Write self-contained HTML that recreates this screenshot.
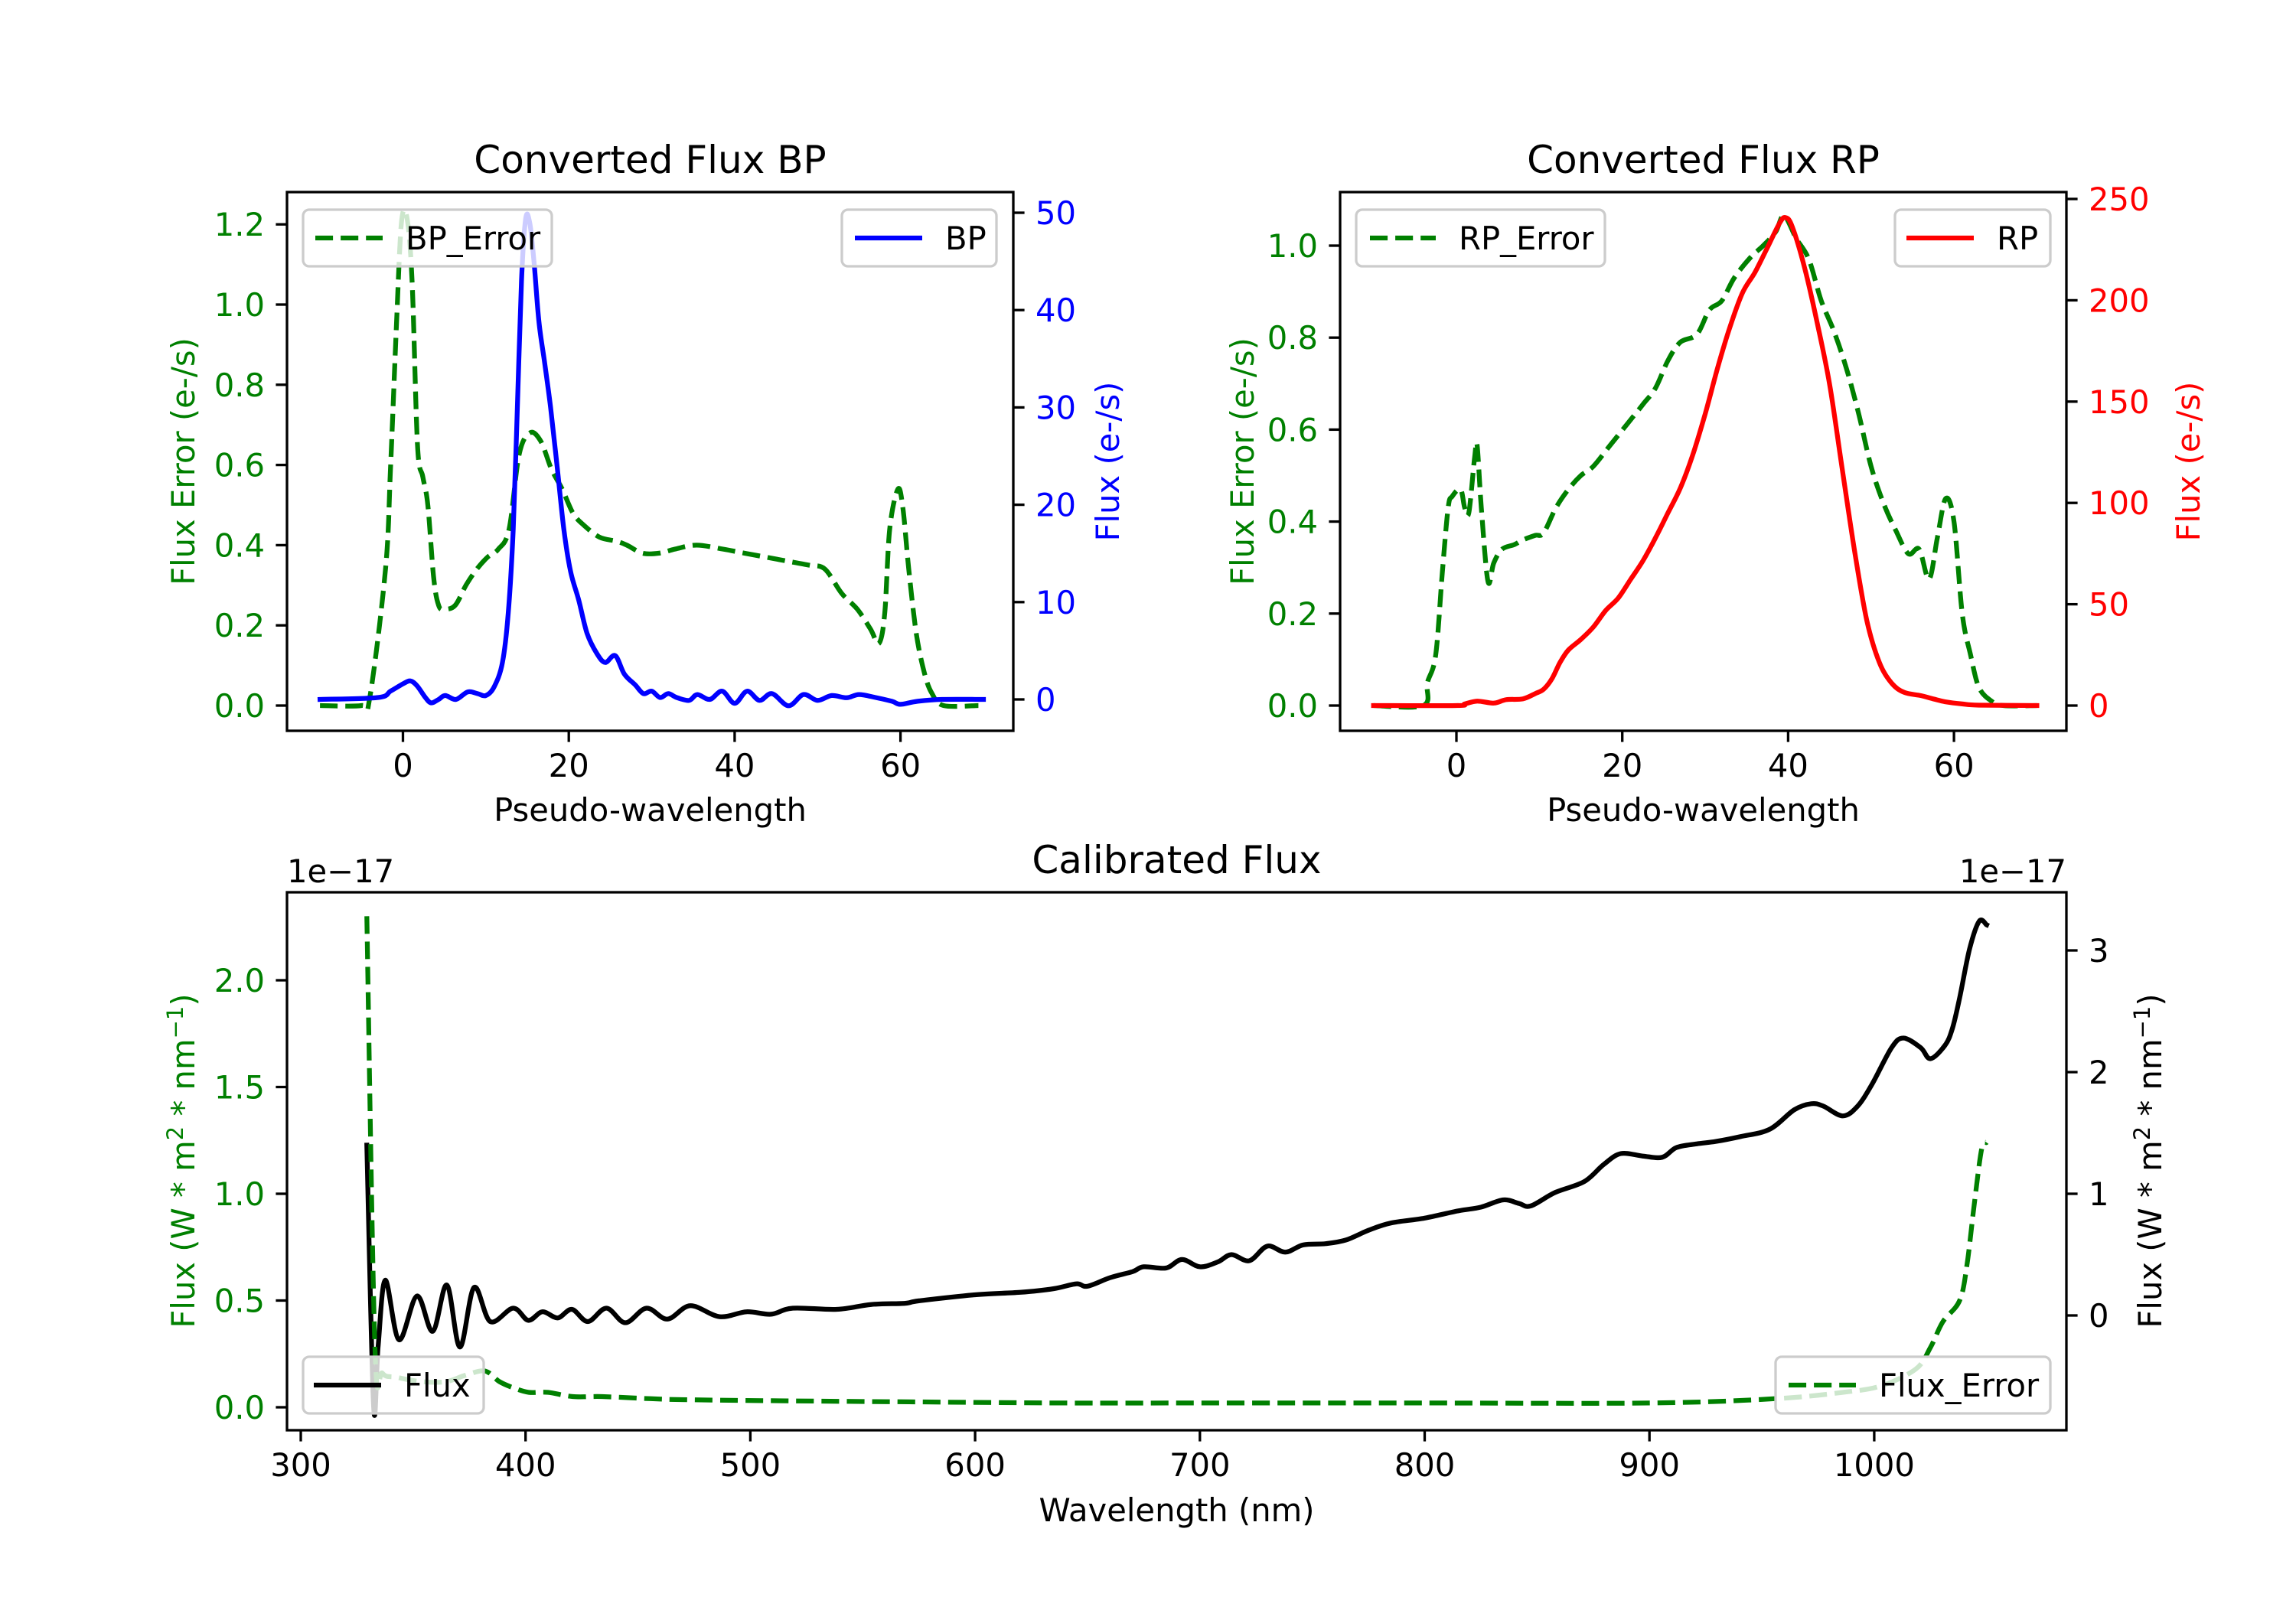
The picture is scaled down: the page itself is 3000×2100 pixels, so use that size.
<!DOCTYPE html>
<html><head><meta charset="utf-8"><style>
html,body{margin:0;padding:0;background:#fff}
svg{display:block}
text{font-family:"DejaVu Sans","Liberation Sans",sans-serif}
</style></head><body>
<svg id="fig" xmlns="http://www.w3.org/2000/svg" width="3000" height="2100" viewBox="0 0 3000 2100">
<rect x="0" y="0" width="3000" height="2100" fill="#fff"/>
</svg>
<script>
// ---- BP data ----
const bpErrX=[-10,-5,-4,-2.1,-1.5,-0.8,-0.2,0.45,1.1,1.75,2.4,3.0,3.7,4.3,5.0,6.3,7.6,8.9,10.2,11.5,12.8,14.0,15.3,16.6,17.9,19.2,20.5,21.8,23.7,25.7,27.0,28.9,30.9,32.8,35.4,38.6,41.2,43.8,46.4,49,50.9,52.9,54.8,56.4,57.4,58.1,58.7,59.7,60.3,61.0,61.9,62.9,63.8,65.2,69.4];
const bpErr=[0,0,0.02,0.34,0.59,0.94,1.2,1.22,1.06,0.65,0.57,0.50,0.32,0.25,0.24,0.25,0.30,0.34,0.37,0.39,0.44,0.625,0.68,0.66,0.59,0.54,0.48,0.45,0.42,0.41,0.40,0.38,0.38,0.39,0.40,0.39,0.38,0.37,0.36,0.35,0.34,0.28,0.24,0.19,0.155,0.23,0.44,0.54,0.49,0.34,0.18,0.08,0.03,0,0];
const bpX=[-10,-3,-1.5,0,0.9,1.7,2.7,3.4,4.3,5.1,6.4,7.8,9,10,11,12,12.7,13.3,13.8,14.3,14.8,15.3,15.8,16.4,17.1,17.8,18.6,19.4,20.2,21.2,22.2,23.4,24.4,25.6,26.7,28,29,30,31,32,33,34.5,35.5,37,38.5,40,41.5,43,44.5,46.5,48.3,50,51.7,53.5,55,57,59,60,62,65,70];
const bpFlux=[0,0.2,0.85,1.6,1.9,1.4,0.2,-0.35,0,0.4,0,0.77,0.6,0.4,1.3,3.8,8.9,17.5,30,43,49.4,48.9,45,38.8,34.5,30,23.9,17.5,13.2,10.2,6.8,4.7,3.8,4.5,2.6,1.5,0.6,0.85,0.2,0.6,0.2,-0.1,0.5,0,0.85,-0.4,0.85,-0.1,0.6,-0.65,0.5,-0.1,0.4,0.17,0.5,0.2,-0.2,-0.5,-0.2,0,0];
// ---- RP data ----
const rpErrX=[-10,-4,-3.5,-2.5,-1.7,-1,-0.5,0.5,1,1.5,2.2,2.5,3,3.8,4.5,5.5,7,8,9.5,10.5,12,13.5,15,16.5,18.5,20.5,22.5,24,25.5,27,29,30.5,32,33.5,35.5,37,38.5,39.5,41,42.5,44,45.5,47,48.5,50,51.5,53,54.5,55.8,57,58,59,60,61,62,63,64.5,66,70];
const rpErr=[0,0,0.05,0.11,0.29,0.43,0.455,0.47,0.43,0.42,0.54,0.565,0.43,0.27,0.31,0.34,0.35,0.36,0.37,0.375,0.43,0.47,0.50,0.52,0.565,0.61,0.655,0.69,0.75,0.79,0.807,0.86,0.88,0.93,0.975,1.0,1.03,1.065,1.015,0.97,0.88,0.815,0.735,0.635,0.52,0.44,0.38,0.33,0.34,0.275,0.365,0.45,0.40,0.20,0.11,0.04,0.01,0,0];
const rpX=[-10,0,1,2.5,4.5,6,8,9.5,10.5,11.5,12.5,13.5,15,16.5,18,19.5,21,22.5,24,25.5,27,28.5,30,31.5,33,34.5,36,37.5,39,39.7,40.5,42,43.5,45,46.5,48,49.5,51,52.5,54,56,57.5,59,61,63,70];
const rpFlux=[0,0,0.8,2.2,1.2,2.9,3.3,5.9,8,13.1,21.3,27.4,32.6,38.7,46.9,53,62.2,71.5,82.7,95,107.3,123.7,144,166.7,187,203.7,213.8,226,238.3,240.8,236.3,215.8,189,158.5,117.5,76.6,41.8,21.3,11,6.5,4.9,3.3,1.8,0.8,0.2,0];
// ---- Calibrated data (units of 1e-17) ----
const calX=[329.4,332.4,334.4,337.6,343.7,351.7,358.7,365.0,370.8,377.1,384.3,394.5,401.2,407.5,414.3,420.6,427.7,436.0,444.4,453.8,463.1,473.3,486.3,498.3,509.2,518.9,538.5,553.7,568.9,575,600,620,635,645,650,660,670,675,685,692,700,708,714,722,730,738,746,756,765,775,785,800,815,825,835,842,847.2,858,871,879.6,887.2,897,905.7,912,921,929.6,940.5,953.5,964.4,972,977.4,986,992.6,999,1007.7,1013,1020.7,1025,1031.5,1034.8,1038,1042.4,1046.7,1050];
const calFlux=[1.40,-0.75,-0.26,0.29,-0.20,0.16,-0.13,0.25,-0.26,0.23,-0.05,0.06,-0.04,0.03,-0.02,0.05,-0.05,0.06,-0.06,0.06,-0.03,0.08,-0.01,0.03,0.01,0.06,0.05,0.09,0.10,0.12,0.17,0.19,0.22,0.26,0.24,0.31,0.36,0.40,0.39,0.46,0.40,0.44,0.50,0.45,0.57,0.52,0.58,0.59,0.62,0.70,0.76,0.80,0.86,0.89,0.95,0.92,0.90,1.01,1.10,1.24,1.33,1.31,1.30,1.38,1.41,1.43,1.47,1.53,1.69,1.74,1.72,1.64,1.72,1.90,2.20,2.28,2.20,2.11,2.22,2.36,2.61,3.01,3.24,3.21];
const errX=[329.4,333,336.3,342.8,353.7,364.5,373.2,381.9,388.4,394.9,401.4,410,421,434,455.7,473,516.5,575,640,700,800,900,955.7,986,1003,1018.6,1025,1030.5,1038,1041.3,1044.6,1047.8,1050];
const errVal=[2.30,0.28,0.16,0.14,0.12,0.12,0.15,0.17,0.12,0.09,0.07,0.07,0.05,0.05,0.04,0.035,0.03,0.025,0.02,0.02,0.02,0.02,0.04,0.07,0.10,0.18,0.28,0.40,0.50,0.67,0.96,1.21,1.24];
// tick labels
const bpXTicks=[0,20,40,60];
const bpLTicks=[0,0.2,0.4,0.6,0.8,1.0,1.2];
const bpRTicks=[0,10,20,30,40,50];
const rpLTicks=[0,0.2,0.4,0.6,0.8,1.0];
const rpRTicks=[0,50,100,150,200,250];
const calXTicks=[300,400,500,600,700,800,900,1000];
const calLTicks=[0,0.5,1.0,1.5,2.0];
const calRTicks=[0,1,2,3];

const NS="http://www.w3.org/2000/svg";
const svg=document.getElementById('fig');
function el(tag,attrs,parent){const e=document.createElementNS(NS,tag);for(const k in attrs)e.setAttribute(k,attrs[k]);(parent||svg).appendChild(e);return e;}
function lin(d0,p0,scale){return v=>p0+(v-d0)*scale;}
const GREEN="#008000";
const FS=41.7;

function axesBox(name,x0,y0,x1,y1){
  const g=el('g',{});
  
  
  const cp=el('clipPath',{id:'clip-'+name},g);
  el('rect',{x:x0,y:y0,width:x1-x0,height:y1-y0},cp);
  return g;
}
function frame(g,x0,y0,x1,y1){
  const r=el('rect',{x:x0,y:y0,width:x1-x0,height:y1-y0,fill:'none',stroke:'#000','stroke-width':3.3},g);
  
  
}
function line(g,name,xs,ys,sx,sy,color,dashed,clipId){
  const P=xs.map((x,i)=>[sx(x),sy(ys[i])]);
  let d='M'+P[0][0].toFixed(1)+' '+P[0][1].toFixed(1);
  const t=0.5/3;
  for(let i=0;i<P.length-1;i++){
    const p0=P[Math.max(i-1,0)],p1=P[i],p2=P[i+1],p3=P[Math.min(i+2,P.length-1)];
    const c1=[p1[0]+(p2[0]-p0[0])*t,p1[1]+(p2[1]-p0[1])*t];
    const c2=[p2[0]-(p3[0]-p1[0])*t,p2[1]-(p3[1]-p1[1])*t];
    d+='C'+c1[0].toFixed(1)+' '+c1[1].toFixed(1)+' '+c2[0].toFixed(1)+' '+c2[1].toFixed(1)+' '+p2[0].toFixed(1)+' '+p2[1].toFixed(1);
  }
  const p=el('path',{d:d,fill:'none',stroke:color,'stroke-width':6.25,'stroke-linejoin':'round','stroke-linecap':dashed?'butt':'square','clip-path':'url(#'+clipId+')'},g);
  if(dashed)p.setAttribute('stroke-dasharray','23.1 10');
  
  
}
function xTicks(g,ticks,sx,yb,fmt,name){
  ticks.forEach(t=>{
    const x=sx(t);
    const tk=el('line',{x1:x,y1:yb,x2:x,y2:yb+14.6,stroke:'#000','stroke-width':3.3},g);
    
    
    const tx=el('text',{x:x,y:yb+60,'text-anchor':'middle','font-size':FS,fill:'#000'},g);
    tx.textContent=fmt(t);
    
    
  });
}
function yTicks(g,ticks,sy,xa,side,color,fmt,name){
  ticks.forEach(t=>{
    const y=sy(t);
    const dx=side==='left'?-14.6:14.6;
    const tk=el('line',{x1:xa,y1:y,x2:xa+dx,y2:y,stroke:'#000','stroke-width':3.3},g);
    
    
    const tx=el('text',{x:side==='left'?xa-29:xa+29,y:y+15,'text-anchor':side==='left'?'end':'start','font-size':FS,fill:color},g);
    tx.textContent=fmt(t);
    
    
  });
}
function text(g,name,str,x,y,opts){
  const a={x:x,y:y,'font-size':opts.fs||FS,fill:opts.color||'#000','text-anchor':opts.anchor||'middle'};
  if(opts.rot)a.transform='rotate('+opts.rot+' '+x+' '+y+')';
  const t=el('text',a,g);
  t.textContent=str;
  
  
  return t;
}
function legend(g,name,bx0,by0,bx1,by1,lx0,lx1,color,dashed,label){
  const lg=el('g',{},g);
  
  
  el('rect',{x:bx0,y:by0,width:bx1-bx0,height:by1-by0,rx:8,fill:'#fff','fill-opacity':0.8,stroke:'#cccccc','stroke-width':3.3},lg);
  const ym=(by0+by1)/2;
  const l=el('line',{x1:lx0,y1:ym,x2:lx1,y2:ym,stroke:color,'stroke-width':6.25},lg);
  if(dashed)l.setAttribute('stroke-dasharray','23.1 10');
  const t=el('text',{x:lx1+30,y:ym+15,'font-size':FS,fill:'#000'},lg);
  t.textContent=label;
}
const f1=v=>v.toFixed(1);
const f0=v=>String(v);

// ===== BP =====
{
  const x0=375,x1=1324,y0=251,y1=955;
  const g=axesBox('bp-axes',x0,y0,x1,y1);
  const sx=lin(0,526.5,10.835), syL=lin(0,922,-524), syR=lin(0,914,-12.72);
  line(g,'bp-error-line',bpErrX,bpErr,sx,syL,GREEN,true,'clip-bp-axes');
  line(g,'bp-flux-line',bpX,bpFlux,sx,syR,'#0000ff',false,'clip-bp-axes');
  frame(g,x0,y0,x1,y1);
  xTicks(g,bpXTicks,sx,y1,f0,'bp-x');
  yTicks(g,bpLTicks,syL,x0,'left',GREEN,f1,'bp-left-y');
  yTicks(g,bpRTicks,syR,x1,'right','#0000ff',f0,'bp-right-y');
  text(g,'bp-title','Converted Flux BP',(x0+x1)/2,226,{fs:50});
  text(g,'bp-x-axis-title','Pseudo-wavelength',(x0+x1)/2,1073,{});
  text(g,'bp-left-y-axis-title','Flux Error (e-/s)',254,603,{rot:-90,color:GREEN});
  text(g,'bp-right-y-axis-title','Flux (e-/s)',1462,603,{rot:-90,color:'#0000ff'});
  legend(g,'bp-error-legend',396,274,721,348,412,500,GREEN,true,'BP_Error');
  legend(g,'bp-legend',1100,274,1302,348,1117,1205,'#0000ff',false,'BP');
}
// ===== RP =====
{
  const x0=1751,x1=2700,y0=251,y1=955;
  const g=axesBox('rp-axes',x0,y0,x1,y1);
  const sx=lin(0,1903,10.835), syL=lin(0,922,-601), syR=lin(0,922,-2.648);
  line(g,'rp-error-line',rpErrX,rpErr,sx,syL,GREEN,true,'clip-rp-axes');
  line(g,'rp-flux-line',rpX,rpFlux,sx,syR,'#ff0000',false,'clip-rp-axes');
  frame(g,x0,y0,x1,y1);
  xTicks(g,bpXTicks,sx,y1,f0,'rp-x');
  yTicks(g,rpLTicks,syL,x0,'left',GREEN,f1,'rp-left-y');
  yTicks(g,rpRTicks,syR,x1,'right','#ff0000',f0,'rp-right-y');
  text(g,'rp-title','Converted Flux RP',(x0+x1)/2,226,{fs:50});
  text(g,'rp-x-axis-title','Pseudo-wavelength',(x0+x1)/2,1073,{});
  text(g,'rp-left-y-axis-title','Flux Error (e-/s)',1638,603,{rot:-90,color:GREEN});
  text(g,'rp-right-y-axis-title','Flux (e-/s)',2874,603,{rot:-90,color:'#ff0000'});
  legend(g,'rp-error-legend',1772,274,2097,348,1790,1876,GREEN,true,'RP_Error');
  legend(g,'rp-legend',2476,274,2679,348,2491,2579,'#ff0000',false,'RP');
}
// ===== Calibrated =====
{
  const x0=375,x1=2700,y0=1166,y1=1869;
  const g=axesBox('cal-axes',x0,y0,x1,y1);
  const sx=lin(300,393,2.937), syL=lin(0,1839,-279), syR=lin(0,1719,-159);
  line(g,'flux-line',calX,calFlux,sx,syR,'#000',false,'clip-cal-axes');
  line(g,'flux-error-line',errX,errVal,sx,syL,GREEN,true,'clip-cal-axes');
  frame(g,x0,y0,x1,y1);
  xTicks(g,calXTicks,sx,y1,f0,'cal-x');
  yTicks(g,calLTicks,syL,x0,'left',GREEN,f1,'cal-left-y');
  yTicks(g,calRTicks,syR,x1,'right','#000',f0,'cal-right-y');
  text(g,'cal-title','Calibrated Flux',(x0+x1)/2,1141,{fs:50});
  text(g,'cal-x-axis-title','Wavelength (nm)',(x0+x1)/2,1988,{});
  text(g,'cal-left-offset','1e\u221217',x0,1153,{anchor:'start'});
  text(g,'cal-right-offset','1e\u221217',x1,1153,{anchor:'end'});
  const lt=el('text',{x:254,y:1517,'font-size':FS,fill:GREEN,'text-anchor':'middle',transform:'rotate(-90 254 1517)'},g);
  
  
  lt.innerHTML='Flux (W * m<tspan font-size="29" dy="-15">2</tspan><tspan dy="15"> * nm</tspan><tspan font-size="29" dy="-15">\u22121</tspan><tspan dy="15">)</tspan>';
  const rt=el('text',{x:2824,y:1517,'font-size':FS,fill:'#000','text-anchor':'middle',transform:'rotate(-90 2824 1517)'},g);
  
  
  rt.innerHTML='Flux (W * m<tspan font-size="29" dy="-15">2</tspan><tspan dy="15"> * nm</tspan><tspan font-size="29" dy="-15">\u22121</tspan><tspan dy="15">)</tspan>';
  legend(g,'flux-legend',396,1773,632,1847,410,498,'#000',false,'Flux');
  legend(g,'flux-error-legend',2320,1773,2679,1847,2337,2425,GREEN,true,'Flux_Error');
}
</script>
</body></html>
